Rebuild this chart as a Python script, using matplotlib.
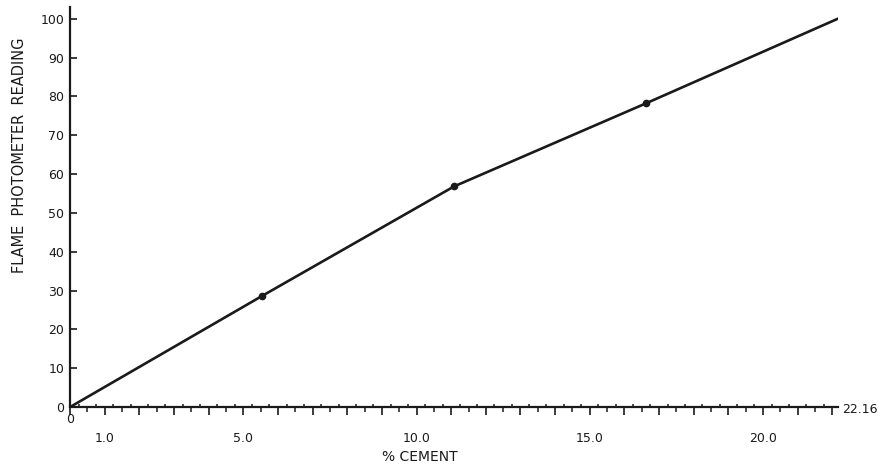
import numpy as np
import matplotlib.pyplot as plt
from matplotlib.ticker import FixedLocator, NullFormatter

# calibration data
pct_cement = [0.0, 5.54, 11.08, 16.62, 22.16]
reading = [0.0, 28.6, 56.8, 78.2, 100.0]

x_max = 22.16
y_ticks = [0, 10, 20, 30, 40, 50, 60, 70, 80, 90, 100]
x_label_vals = [1, 5, 10, 15, 20]
x_label_txt = ['1.0', '5.0', '10.0', '15.0', '20.0']

fig = plt.figure(figsize=(8.8, 4.69), dpi=100)
ax = fig.add_axes([0.0795, 0.132, 0.8727, 0.853])

# calibration curve
ax.plot(pct_cement, reading, color='#1a1a1a', lw=1.9, solid_capstyle='round')
ax.plot(pct_cement[1:-1], reading[1:-1], 'o', color='#1a1a1a', ms=4.5)

ax.set_xlim(0, x_max)
ax.set_ylim(0, 103)

for s in ['top', 'right']:
    ax.spines[s].set_visible(False)
for s in ['left', 'bottom']:
    ax.spines[s].set_linewidth(1.6)
    ax.spines[s].set_color('#1a1a1a')
ax.spines['bottom'].set_bounds(0, x_max)

# y axis: short inward ticks
ax.set_yticks(y_ticks)
ax.set_yticklabels([str(v) for v in y_ticks])
ax.tick_params(axis='y', direction='in', length=5, width=1.2, pad=4,
               labelsize=9, colors='#1a1a1a')

# x axis: whole units long, half units shorter, quarter units small and inward
whole = np.arange(0, 23)
ax.xaxis.set_major_locator(FixedLocator(whole))
ax.set_xticklabels([x_label_txt[x_label_vals.index(v)] if v in x_label_vals else ''
                    for v in whole])
ax.xaxis.set_minor_locator(FixedLocator(np.arange(0.5, 22.1, 1.0)))
ax.xaxis.set_minor_formatter(NullFormatter())
ax.tick_params(axis='x', which='major', direction='out', length=6, width=1.2,
               pad=12, labelsize=9, colors='#1a1a1a')
ax.tick_params(axis='x', which='minor', direction='out', length=3.5, width=1.1,
               colors='#1a1a1a')

sec = ax.secondary_xaxis('bottom')
sec.spines['bottom'].set_visible(False)
sec.set_xticks(np.arange(0.25, 22.1, 0.5))
sec.xaxis.set_major_formatter(NullFormatter())
sec.tick_params(axis='x', direction='in', length=2.5, width=1.1, colors='#1a1a1a')

# end labels on the x axis
ax.annotate('0', xy=(0, 0), xytext=(0, -9), textcoords='offset points',
            ha='center', va='center', fontsize=9, color='#1a1a1a')
ax.annotate('22.16', xy=(x_max, 0), xytext=(3, -2), textcoords='offset points',
            ha='left', va='center', fontsize=9, color='#1a1a1a')

ax.set_xlabel('% CEMENT', fontsize=10, color='#1a1a1a')
ax.xaxis.set_label_coords(0.455, -0.108)
ax.set_ylabel('FLAME  PHOTOMETER  READING', fontsize=10.5, color='#1a1a1a')
ax.yaxis.set_label_coords(-0.056, 0.63)

fig.savefig('out.png', dpi=100)
plt.close(fig)
